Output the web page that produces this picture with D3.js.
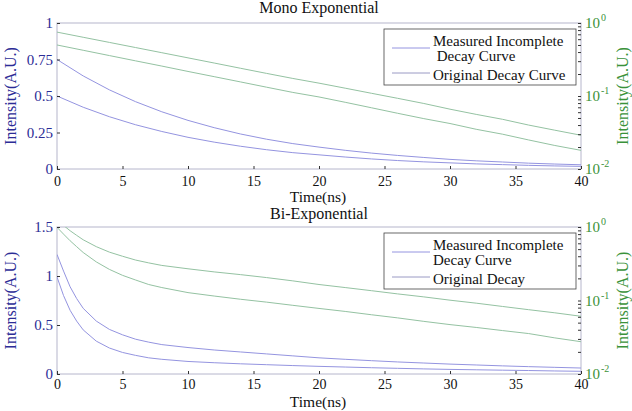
<!DOCTYPE html>
<html><head><meta charset="utf-8">
<script src="https://cdn.jsdelivr.net/npm/d3@7"></script>
<style>
body{margin:0;background:#fff}
text{font-family:"Liberation Serif","Times New Roman",serif}
</style>
</head><body>
<svg id="c" width="632" height="411"></svg>
<script>
// ---- data ----
const timeMono = [0,2,4,6,8,10,12,14,16,18,20,22,24,26,28,30,32,34,36,38,40];
const monoCurveA = [0.75,0.6375,0.542,0.461,0.392,0.333,0.283,0.240,0.204,0.174,0.150,0.128,0.109,0.093,0.079,0.066,0.056,0.048,0.040,0.034,0.029];
const monoCurveB = [0.50,0.423,0.358,0.303,0.257,0.217,0.184,0.156,0.132,0.112,0.097,0.082,0.069,0.058,0.049,0.042,0.035,0.030,0.025,0.021,0.018];

const timeBi = [0,0.5,1,1.5,2,3,4,5,6,7,8,10,12,14,16,18,20,22,24,26,28,30,32,34,36,38,40];
const biCurveA = [1.22,1.05,0.89,0.77,0.67,0.54,0.455,0.40,0.355,0.325,0.30,0.27,0.245,0.225,0.205,0.185,0.165,0.150,0.136,0.123,0.112,0.101,0.092,0.083,0.075,0.068,0.061];
const biCurveB = [0.99,0.80,0.65,0.54,0.45,0.335,0.265,0.22,0.19,0.165,0.150,0.128,0.115,0.104,0.095,0.086,0.078,0.071,0.064,0.058,0.052,0.047,0.043,0.039,0.0355,0.031,0.0275];

const xTicks = [0,5,10,15,20,25,30,35,40];
const monoLeftTicks = [0,0.25,0.5,0.75,1];
const biLeftTicks = [0,0.5,1,1.5];
const logMajorTicks = [0.01,0.1,1];
const logMajorExp = ["-2","-1","0"];
const logMinorMult = [2,3,4,5,6,7,8,9];

const monoLegend = [["Measured Incomplete"," Decay Curve"],["Original Decay Curve"]];
const biLegend = [["Measured Incomplete","Decay Curve"],["Original Decay"]];

// ---- drawing ----
const svg = d3.select("#c");
const defs = svg.append("defs");
const BLUE_LINE = "#9494e0", GREEN_LINE = "#94c2a2";
const BLUE_TXT = "#2c2c96", GREEN_TXT = "#3a923a";
const BOX = "#b6b6cc", TICK = "#333";

function panel(p, idx){
  const g = svg.append("g");
  const x = d3.scaleLinear().domain([0,40]).range([57,581]);
  const yL = d3.scaleLinear().domain([0,p.leftMax]).range([p.bot,p.top]);
  const yR = d3.scaleLog().domain([0.01,1]).range([p.bot,p.top]);

  defs.append("clipPath").attr("id","clip"+idx).append("rect")
    .attr("x",x(0)).attr("y",p.top).attr("width",x(40)-x(0)).attr("height",p.bot-p.top);

  g.append("rect").attr("x",x(0)).attr("y",p.top).attr("width",x(40)-x(0)).attr("height",p.bot-p.top)
    .attr("fill","none").attr("stroke",BOX).attr("stroke-width",1);

  const cg = g.append("g").attr("clip-path","url(#clip"+idx+")");
  const lineL = d3.line().x((d,i)=>x(p.time[i])).y(d=>yL(d));
  const lineR = d3.line().x((d,i)=>x(p.time[i])).y(d=>yR(d));
  [p.a,p.b].forEach(s=>{
    cg.append("path").attr("d",lineL(s)).attr("fill","none").attr("stroke",BLUE_LINE).attr("stroke-width",1);
    cg.append("path").attr("d",lineR(s)).attr("fill","none").attr("stroke",GREEN_LINE).attr("stroke-width",1);
  });

  const xa = g.append("g").attr("transform",`translate(0,${p.bot})`)
    .call(d3.axisBottom(x).tickValues(xTicks).tickSize(-3).tickPadding(p.xPad).tickFormat(d=>String(d)));
  xa.select(".domain").remove();
  xa.selectAll("line").attr("stroke",TICK);
  xa.selectAll("text").attr("font-size",14).attr("fill","#111").attr("font-family","Liberation Serif");

  const la = g.append("g").attr("transform",`translate(${x(0)},0)`)
    .call(d3.axisLeft(yL).tickValues(p.leftTicks).tickSize(-3).tickPadding(4).tickFormat(d=>String(d)));
  la.select(".domain").remove();
  la.selectAll("line").attr("stroke",TICK);
  la.selectAll("text").attr("font-size",15).attr("fill",BLUE_TXT).attr("font-family","Liberation Serif");

  const allLog = [];
  logMajorTicks.slice(0,2).forEach(m=>logMinorMult.forEach(k=>allLog.push(m*k)));
  const ra = g.append("g").attr("transform",`translate(${x(40)},0)`)
    .call(d3.axisRight(yR).tickValues(allLog.concat(logMajorTicks)).tickSize(-3).tickFormat(""));
  ra.select(".domain").remove();
  ra.selectAll("line").attr("stroke",TICK);
  logMajorTicks.forEach((v,i)=>{
    const t = g.append("text").attr("x",x(40)+4).attr("y",yR(v)+5)
      .attr("font-size",15).attr("fill",GREEN_TXT).text("10");
    t.append("tspan").attr("dy",-7).attr("dx",1).attr("font-size",10).text(logMajorExp[i]);
  });

  g.append("text").attr("x",319).attr("y",p.titleY).attr("text-anchor","middle")
    .attr("font-size",16).attr("fill","#111").text(p.title);
  g.append("text").attr("x",318).attr("y",p.bot+p.xlabOff).attr("text-anchor","middle")
    .attr("font-size",15.5).attr("fill","#111").text("Time(ns)");
  const cy = (p.top+p.bot)/2;
  g.append("text").attr("transform",`translate(16,${cy}) rotate(-90)`).attr("text-anchor","middle")
    .attr("font-size",16).attr("fill",BLUE_TXT).text("Intensity(A.U.)");
  g.append("text").attr("transform",`translate(628,${cy}) rotate(-90)`).attr("text-anchor","middle")
    .attr("font-size",16).attr("fill",GREEN_TXT).text("Intensity(A.U.)");

  const lg = g.append("g").attr("transform",`translate(384,${p.top+6})`);
  lg.append("rect").attr("width",192).attr("height",56).attr("fill","#fff")
    .attr("stroke","#444").attr("stroke-width",0.8);
  lg.append("line").attr("x1",8).attr("x2",46).attr("y1",19).attr("y2",19).attr("stroke",BLUE_LINE);
  lg.append("line").attr("x1",8).attr("x2",46).attr("y1",44).attr("y2",44).attr("stroke","#9a9ac4");
  lg.append("text").attr("x",49).attr("y",17).attr("font-size",15).attr("fill","#111")
    .attr("xml:space","preserve").style("white-space","pre").text(p.legend[0][0]);
  lg.append("text").attr("x",49).attr("y",32).attr("font-size",15).attr("fill","#111")
    .attr("xml:space","preserve").style("white-space","pre").text(p.legend[0][1]);
  lg.append("text").attr("x",49).attr("y",51).attr("font-size",15).attr("fill","#111").text(p.legend[1][0]);
}

panel({top:23,bot:169,leftMax:1,leftTicks:monoLeftTicks,time:timeMono,a:monoCurveA,b:monoCurveB,
  title:"Mono Exponential",titleY:13,xPad:7,xlabOff:33,legend:monoLegend},0);
panel({top:227,bot:374,leftMax:1.5,leftTicks:biLeftTicks,time:timeBi,a:biCurveA,b:biCurveB,
  title:"Bi-Exponential",titleY:219,xPad:5,xlabOff:33,legend:biLegend},1);
</script>
</body></html>
